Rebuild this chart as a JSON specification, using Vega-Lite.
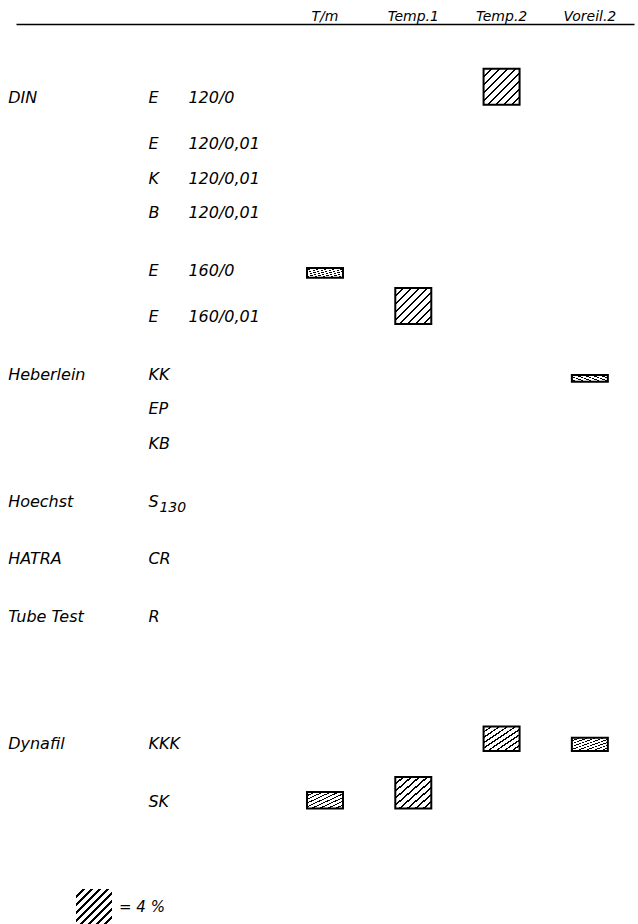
{
  "$schema": "https://vega.github.io/schema/vega-lite/v6.json",
  "width": 618,
  "height": 900,
  "autosize": "none",
  "padding": {"left": 16, "top": 24, "right": 4, "bottom": 0},
  "background": "white",
  "config": {"view": {"stroke": null}},
  "datasets": {
    "rows": [
      {"key": "DIN E 120/0", "group": "DIN", "code": "E", "spec": "120/0"},
      {"key": "DIN E 120/0,01", "code": "E", "spec": "120/0,01"},
      {"key": "DIN K 120/0,01", "code": "K", "spec": "120/0,01"},
      {"key": "DIN B 120/0,01", "code": "B", "spec": "120/0,01"},
      {"key": "DIN E 160/0", "code": "E", "spec": "160/0"},
      {"key": "DIN E 160/0,01", "code": "E", "spec": "160/0,01"},
      {"key": "Heberlein KK", "group": "Heberlein", "code": "KK"},
      {"key": "Heberlein EP", "code": "EP"},
      {"key": "Heberlein KB", "code": "KB"},
      {"key": "Hoechst S130", "group": "Hoechst", "code": "S", "sub": "130"},
      {"key": "HATRA CR", "group": "HATRA", "code": "CR"},
      {"key": "Tube Test R", "group": "Tube Test", "code": "R"},
      {"key": "Dynafil KKK", "group": "Dynafil", "code": "KKK"},
      {"key": "Dynafil SK", "code": "SK"}
    ],
    "bars": [
      {"key": "DIN E 120/0", "col": "Temp.2", "pct": 4.0},
      {"key": "DIN E 160/0", "col": "T/m", "pct": 1.1},
      {"key": "DIN E 160/0,01", "col": "Temp.1", "pct": 4.0},
      {"key": "Heberlein KK", "col": "Voreil.2", "pct": 0.75},
      {"key": "Dynafil KKK", "col": "Temp.2", "pct": 2.7},
      {"key": "Dynafil KKK", "col": "Voreil.2", "pct": 1.45},
      {"key": "Dynafil SK", "col": "T/m", "pct": 1.85},
      {"key": "Dynafil SK", "col": "Temp.1", "pct": 3.5}
    ]
  },
  "encoding": {
    "y": {
      "field": "key",
      "type": "nominal",
      "axis": null,
      "scale": {
        "type": "point",
        "padding": 0,
        "domain": ["_0","_1","_2","_3","_4","_5","_6","DIN E 120/0","_8","_9","_10","DIN E 120/0,01","_12","_13","DIN K 120/0,01","_15","_16","DIN B 120/0,01","_18","_19","_20","_21","DIN E 160/0","_23","_24","_25","DIN E 160/0,01","_27","_28","_29","_30","Heberlein KK","_32","_33","Heberlein EP","_35","_36","Heberlein KB","_38","_39","_40","_41","Hoechst S130","_43","_44","_45","_46","HATRA CR","_48","_49","_50","_51","Tube Test R","_53","_54","_55","_56","_57","_58","_59","_60","_61","_62","Dynafil KKK","_64","_65","_66","_67","Dynafil SK","_69","_70","_71","_72","_73","_74","_75","_76","_77","_78"]
      }
    }
  },
  "layer": [
    {
      "data": {"name": "bars"},
      "mark": {
        "type": "bar",
        "orient": "horizontal",
        "width": 36,
        "baseline": "bottom",
        "stroke": "black",
        "strokeWidth": 2,
        "fill": {"gradient": "linear", "x1": 0, "y1": 0, "x2": 1, "y2": 1, "stops": [
          {"offset": 0, "color": "white"},
          {"offset": 0.095, "color": "white"}, {"offset": 0.095, "color": "black"}, {"offset": 0.127, "color": "black"}, {"offset": 0.127, "color": "white"},
          {"offset": 0.206, "color": "white"}, {"offset": 0.206, "color": "black"}, {"offset": 0.238, "color": "black"}, {"offset": 0.238, "color": "white"},
          {"offset": 0.317, "color": "white"}, {"offset": 0.317, "color": "black"}, {"offset": 0.349, "color": "black"}, {"offset": 0.349, "color": "white"},
          {"offset": 0.428, "color": "white"}, {"offset": 0.428, "color": "black"}, {"offset": 0.460, "color": "black"}, {"offset": 0.460, "color": "white"},
          {"offset": 0.540, "color": "white"}, {"offset": 0.540, "color": "black"}, {"offset": 0.572, "color": "black"}, {"offset": 0.572, "color": "white"},
          {"offset": 0.651, "color": "white"}, {"offset": 0.651, "color": "black"}, {"offset": 0.683, "color": "black"}, {"offset": 0.683, "color": "white"},
          {"offset": 0.762, "color": "white"}, {"offset": 0.762, "color": "black"}, {"offset": 0.794, "color": "black"}, {"offset": 0.794, "color": "white"},
          {"offset": 0.873, "color": "white"}, {"offset": 0.873, "color": "black"}, {"offset": 0.905, "color": "black"}, {"offset": 0.905, "color": "white"},
          {"offset": 1, "color": "white"}
        ]}
      },
      "encoding": {
        "x": {
          "field": "col",
          "type": "nominal",
          "scale": {"type": "band", "domain": ["group","code","spec","T/m","Temp.1","Temp.2","Voreil.2"], "paddingInner": 0, "paddingOuter": 0},
          "axis": {"orient": "top", "values": ["T/m","Temp.1","Temp.2","Voreil.2"], "title": null, "ticks": false, "grid": false, "domain": true, "domainColor": "black", "domainWidth": 1.5, "labelAngle": 0, "labelFont": "DejaVu Sans", "labelFontStyle": "italic", "labelFontSize": 14, "labelColor": "black", "labelPadding": 1}
        },
        "size": {
          "field": "pct",
          "type": "quantitative",
          "scale": {"domain": [0, 4], "range": [0, 36]},
          "legend": null
        },
        "opacity": {
          "datum": "= 4 %",
          "type": "nominal",
          "scale": {"type": "ordinal", "domain": ["= 4 %"], "range": [1]},
          "legend": {
            "orient": "none",
            "legendX": 59,
            "legendY": 864,
            "title": null,
            "symbolType": "square",
            "symbolSize": 1296,
            "symbolStrokeColor": "black",
            "symbolStrokeWidth": 2,
            "symbolOpacity": 1,
            "labelFont": "DejaVu Sans",
            "labelFontStyle": "italic",
            "labelFontSize": 15,
            "labelColor": "black",
            "labelOffset": 6,
            "encode": {
              "symbols": {
                "update": {
                  "stroke": {"value": "black"},
                  "strokeWidth": {"value": 2},
                  "fill": {"value": {"gradient": "linear", "x1": 0, "y1": 0, "x2": 1, "y2": 1, "stops": [
                    {"offset": 0, "color": "white"},
                    {"offset": 0.095, "color": "white"}, {"offset": 0.095, "color": "black"}, {"offset": 0.127, "color": "black"}, {"offset": 0.127, "color": "white"},
                    {"offset": 0.206, "color": "white"}, {"offset": 0.206, "color": "black"}, {"offset": 0.238, "color": "black"}, {"offset": 0.238, "color": "white"},
                    {"offset": 0.317, "color": "white"}, {"offset": 0.317, "color": "black"}, {"offset": 0.349, "color": "black"}, {"offset": 0.349, "color": "white"},
                    {"offset": 0.428, "color": "white"}, {"offset": 0.428, "color": "black"}, {"offset": 0.460, "color": "black"}, {"offset": 0.460, "color": "white"},
                    {"offset": 0.540, "color": "white"}, {"offset": 0.540, "color": "black"}, {"offset": 0.572, "color": "black"}, {"offset": 0.572, "color": "white"},
                    {"offset": 0.651, "color": "white"}, {"offset": 0.651, "color": "black"}, {"offset": 0.683, "color": "black"}, {"offset": 0.683, "color": "white"},
                    {"offset": 0.762, "color": "white"}, {"offset": 0.762, "color": "black"}, {"offset": 0.794, "color": "black"}, {"offset": 0.794, "color": "white"},
                    {"offset": 0.873, "color": "white"}, {"offset": 0.873, "color": "black"}, {"offset": 0.905, "color": "black"}, {"offset": 0.905, "color": "white"},
                    {"offset": 1, "color": "white"}
                  ]}}
                }
              }
            }
          }
        }
      }
    },
    {
      "data": {"name": "rows"},
      "transform": [{"filter": "isValid(datum.group)"}],
      "mark": {"type": "text", "align": "left", "baseline": "middle", "dx": -52, "dy": -7, "font": "DejaVu Sans", "fontStyle": "italic", "fontSize": 16, "fill": "black"},
      "encoding": {
        "x": {"datum": "group", "type": "nominal", "scale": {"type": "band", "domain": ["group","code","spec","T/m","Temp.1","Temp.2","Voreil.2"], "paddingInner": 0, "paddingOuter": 0},
          "axis": {"orient": "top", "values": ["T/m","Temp.1","Temp.2","Voreil.2"], "title": null, "ticks": false, "grid": false, "domain": true, "domainColor": "black", "domainWidth": 1.5, "labelAngle": 0, "labelFont": "DejaVu Sans", "labelFontStyle": "italic", "labelFontSize": 14, "labelColor": "black", "labelPadding": 1}},
        "text": {"field": "group", "type": "nominal"}
      }
    },
    {
      "data": {"name": "rows"},
      "mark": {"type": "text", "align": "left", "baseline": "middle", "dx": 0, "dy": -7, "font": "DejaVu Sans", "fontStyle": "italic", "fontSize": 16, "fill": "black"},
      "encoding": {
        "x": {"datum": "code", "type": "nominal", "scale": {"type": "band", "domain": ["group","code","spec","T/m","Temp.1","Temp.2","Voreil.2"], "paddingInner": 0, "paddingOuter": 0},
          "axis": {"orient": "top", "values": ["T/m","Temp.1","Temp.2","Voreil.2"], "title": null, "ticks": false, "grid": false, "domain": true, "domainColor": "black", "domainWidth": 1.5, "labelAngle": 0, "labelFont": "DejaVu Sans", "labelFontStyle": "italic", "labelFontSize": 14, "labelColor": "black", "labelPadding": 1}},
        "text": {"field": "code", "type": "nominal"}
      }
    },
    {
      "data": {"name": "rows"},
      "transform": [{"filter": "isValid(datum.spec)"}],
      "mark": {"type": "text", "align": "left", "baseline": "middle", "dx": 40, "dy": -7, "font": "DejaVu Sans", "fontStyle": "italic", "fontSize": 16, "fill": "black"},
      "encoding": {
        "x": {"datum": "code", "type": "nominal", "scale": {"type": "band", "domain": ["group","code","spec","T/m","Temp.1","Temp.2","Voreil.2"], "paddingInner": 0, "paddingOuter": 0},
          "axis": {"orient": "top", "values": ["T/m","Temp.1","Temp.2","Voreil.2"], "title": null, "ticks": false, "grid": false, "domain": true, "domainColor": "black", "domainWidth": 1.5, "labelAngle": 0, "labelFont": "DejaVu Sans", "labelFontStyle": "italic", "labelFontSize": 14, "labelColor": "black", "labelPadding": 1}},
        "text": {"field": "spec", "type": "nominal"}
      }
    },
    {
      "data": {"name": "rows"},
      "transform": [{"filter": "isValid(datum.sub)"}],
      "mark": {"type": "text", "align": "left", "baseline": "middle", "dx": 11, "dy": -1, "font": "DejaVu Sans", "fontStyle": "italic", "fontSize": 14, "fill": "black"},
      "encoding": {
        "x": {"datum": "code", "type": "nominal", "scale": {"type": "band", "domain": ["group","code","spec","T/m","Temp.1","Temp.2","Voreil.2"], "paddingInner": 0, "paddingOuter": 0},
          "axis": {"orient": "top", "values": ["T/m","Temp.1","Temp.2","Voreil.2"], "title": null, "ticks": false, "grid": false, "domain": true, "domainColor": "black", "domainWidth": 1.5, "labelAngle": 0, "labelFont": "DejaVu Sans", "labelFontStyle": "italic", "labelFontSize": 14, "labelColor": "black", "labelPadding": 1}},
        "text": {"field": "sub", "type": "nominal"}
      }
    }
  ]
}
